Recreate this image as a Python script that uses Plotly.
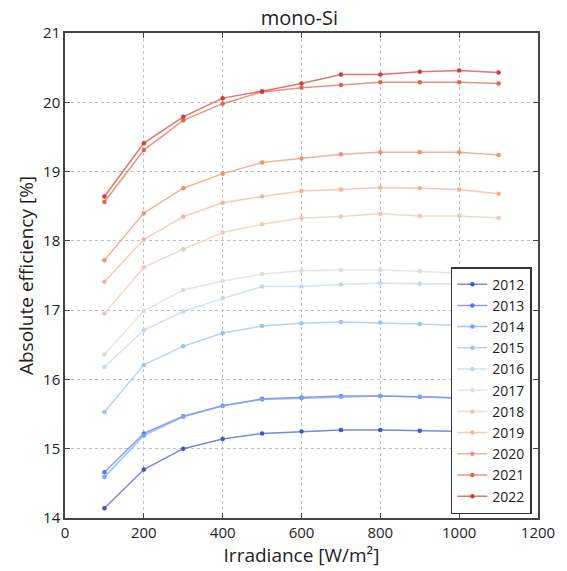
import plotly.graph_objects as go

irradiance = [100, 200, 300, 400, 500, 600, 700, 800, 900, 1000, 1100]
years = ["2012", "2013", "2014", "2015", "2016", "2017", "2018", "2019", "2020", "2021", "2022"]

eff_2012 = [14.14, 14.70, 15.00, 15.14, 15.22, 15.25, 15.27, 15.27, 15.26, 15.25, 15.24]
eff_2013 = [14.66, 15.22, 15.47, 15.62, 15.72, 15.74, 15.76, 15.76, 15.75, 15.73, 15.72]
eff_2014 = [14.59, 15.19, 15.46, 15.62, 15.71, 15.73, 15.75, 15.76, 15.75, 15.73, 15.71]
eff_2015 = [15.53, 16.21, 16.48, 16.67, 16.77, 16.81, 16.83, 16.82, 16.80, 16.78, 16.76]
eff_2016 = [16.18, 16.71, 16.98, 17.17, 17.34, 17.34, 17.37, 17.39, 17.38, 17.38, 17.36]
eff_2017 = [16.36, 16.99, 17.29, 17.42, 17.52, 17.57, 17.58, 17.58, 17.56, 17.53, 17.50]
eff_2018 = [16.95, 17.62, 17.88, 18.12, 18.24, 18.33, 18.35, 18.39, 18.36, 18.36, 18.33]
eff_2019 = [17.41, 18.02, 18.35, 18.55, 18.64, 18.72, 18.74, 18.77, 18.76, 18.74, 18.68]
eff_2020 = [17.72, 18.40, 18.76, 18.97, 19.13, 19.19, 19.25, 19.28, 19.28, 19.28, 19.24]
eff_2021 = [18.56, 19.31, 19.74, 19.98, 20.15, 20.21, 20.25, 20.29, 20.29, 20.29, 20.27]
eff_2022 = [18.64, 19.41, 19.79, 20.06, 20.16, 20.27, 20.40, 20.40, 20.44, 20.46, 20.43]

series = [eff_2012, eff_2013, eff_2014, eff_2015, eff_2016, eff_2017,
          eff_2018, eff_2019, eff_2020, eff_2021, eff_2022]

colors = [(62, 85, 208), (88, 118, 226), (124, 159, 245), (157, 189, 251), (192, 212, 245),
          (221, 220, 220), (236, 200, 182), (245, 178, 147), (240, 145, 109), (226, 100, 78),
          (208, 61, 50)]

fig = go.Figure()
for yr, vals, c in zip(years, series, colors):
    fig.add_trace(go.Scatter(
        x=irradiance, y=vals, name=yr, mode="lines+markers",
        line=dict(color="rgba(%d,%d,%d,0.7)" % c, width=1.5),
        marker=dict(color="rgb(%d,%d,%d)" % c, size=4.5),
    ))

font_family = "Open Sans, DejaVu Sans, sans-serif"
axis_common = dict(
    showline=True, linecolor="#444", linewidth=1.5, mirror="ticks",
    ticks="inside", ticklen=5, tickcolor="#444",
    showgrid=True, gridcolor="#c0c0c0", griddash="dot", gridwidth=1,
    zeroline=False, tickfont=dict(size=15, color="#222", family=font_family),
)

fig.update_layout(
    width=567, height=571,
    margin=dict(l=65, r=27, t=33, b=45),
    paper_bgcolor="white", plot_bgcolor="white",
    font=dict(family=font_family, color="#222"),
    title=dict(text="mono-Si", x=0.528, xanchor="center", y=1 - 18 / 571, yref="container",
               yanchor="middle", font=dict(size=20, color="#222")),
    xaxis=dict(range=[0, 1200], dtick=200,
               title=dict(text="Irradiance [W/m²]", font=dict(size=19), standoff=4),
               **axis_common),
    yaxis=dict(range=[14, 21], dtick=1,
               title=dict(text="Absolute efficiency [%]", font=dict(size=19), standoff=4),
               **axis_common),
    legend=dict(x=0.987, y=0.008, xanchor="right", yanchor="bottom",
                bgcolor="white", bordercolor="#333", borderwidth=1.5,
                font=dict(size=14, color="#222"), tracegroupgap=0),
    showlegend=True,
)

fig.write_html("out.html")
